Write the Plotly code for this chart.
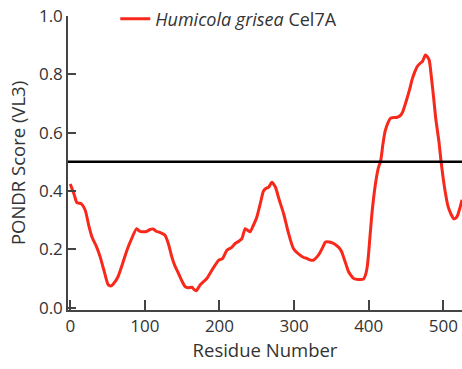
import plotly.graph_objects as go

# PONDR VL3 disorder profile along the Cel7A sequence
residue = [0, 5, 9, 15, 20, 25, 29, 35, 40, 46, 51, 55, 58, 64, 70, 76, 82, 89, 93, 97,
           103, 107, 111, 115, 120, 127, 132, 136, 140, 145, 150, 154, 158, 163, 166, 169,
           174, 179, 183, 190, 194, 199, 204, 210, 216, 221, 226, 230, 234.5, 238, 241,
           245, 250, 255, 259, 263, 266, 270, 275, 280, 286, 292, 299, 308, 313, 317, 322,
           326, 331, 335, 339, 342, 347, 351, 356, 360, 364, 366, 370, 373, 377, 380, 386,
           393, 396, 398, 400, 402, 405, 409, 413, 416, 419, 422, 426, 429, 434, 438, 442,
           445, 448, 451.5, 455, 458, 462, 465, 469, 472, 476, 478, 481, 484, 487, 490, 494,
           497, 500, 503, 506, 510, 514, 517, 519, 522, 525]
score = [0.424, 0.39, 0.36, 0.356, 0.335, 0.28, 0.243, 0.21, 0.175, 0.12, 0.078, 0.075,
         0.082, 0.106, 0.15, 0.197, 0.235, 0.271, 0.262, 0.26, 0.262, 0.268, 0.27, 0.262,
         0.258, 0.248, 0.215, 0.175, 0.145, 0.118, 0.09, 0.072, 0.068, 0.07, 0.062, 0.058,
         0.078, 0.09, 0.1, 0.129, 0.145, 0.163, 0.168, 0.197, 0.206, 0.22, 0.228, 0.237,
         0.271, 0.265, 0.26, 0.28, 0.31, 0.36, 0.40, 0.41, 0.413, 0.43, 0.413, 0.37, 0.322,
         0.26, 0.203, 0.18, 0.172, 0.169, 0.163, 0.163, 0.175, 0.19, 0.21, 0.225, 0.225,
         0.222, 0.215, 0.206, 0.19, 0.175, 0.145, 0.123, 0.108, 0.1, 0.097, 0.098, 0.115,
         0.14, 0.19, 0.254, 0.34, 0.424, 0.48, 0.503, 0.56, 0.605, 0.635, 0.649, 0.652,
         0.653, 0.658, 0.668, 0.69, 0.719, 0.75, 0.781, 0.81, 0.827, 0.838, 0.844, 0.866,
         0.862, 0.849, 0.79, 0.719, 0.645, 0.571, 0.5, 0.44, 0.39, 0.35, 0.322, 0.305,
         0.308, 0.316, 0.34, 0.37]
threshold = 0.5
x_ticks = [0, 100, 200, 300, 400, 500]
y_ticks = [0.0, 0.2, 0.4, 0.6, 0.8, 1.0]

FONT = "Open Sans"
TEXT = "#333333"
AXIS = "#444444"

fig = go.Figure()
fig.add_trace(go.Scatter(
    x=residue, y=score, mode="lines",
    line=dict(color="#f8281a", width=3, shape="spline", smoothing=0.6),
    name="<i>Humicola grisea</i> Cel7A",
))
fig.add_hline(y=threshold, line=dict(color="black", width=2.5))

fig.update_layout(
    width=462, height=369,
    margin=dict(l=68, r=0, t=14, b=59),
    paper_bgcolor="white", plot_bgcolor="white",
    font=dict(family=FONT, size=17, color=TEXT),
    showlegend=True,
    legend=dict(x=0.12, y=0.99, xanchor="left", yanchor="middle",
                bgcolor="rgba(0,0,0,0)", font=dict(size=18, color=TEXT),
                itemwidth=30),
    xaxis=dict(range=[-3, 525], tickvals=x_ticks, ticks="inside", ticklen=10,
               tickcolor=AXIS, tickwidth=1.5, showline=True, linecolor=AXIS,
               linewidth=1.5, showgrid=False, zeroline=False,
               title=dict(text="Residue Number", font=dict(size=18.5), standoff=2),
               tickfont=dict(size=17)),
    yaxis=dict(range=[-0.008, 1.0], tickvals=y_ticks, tickformat=".1f",
               ticks="inside", ticklen=8, tickcolor=AXIS, tickwidth=1.5,
               showline=True, linecolor=AXIS, linewidth=1.5, showgrid=False,
               zeroline=False,
               title=dict(text="PONDR Score (VL3)", font=dict(size=18.5), standoff=8),
               tickfont=dict(size=17)),
)

fig.write_html("out.html")
